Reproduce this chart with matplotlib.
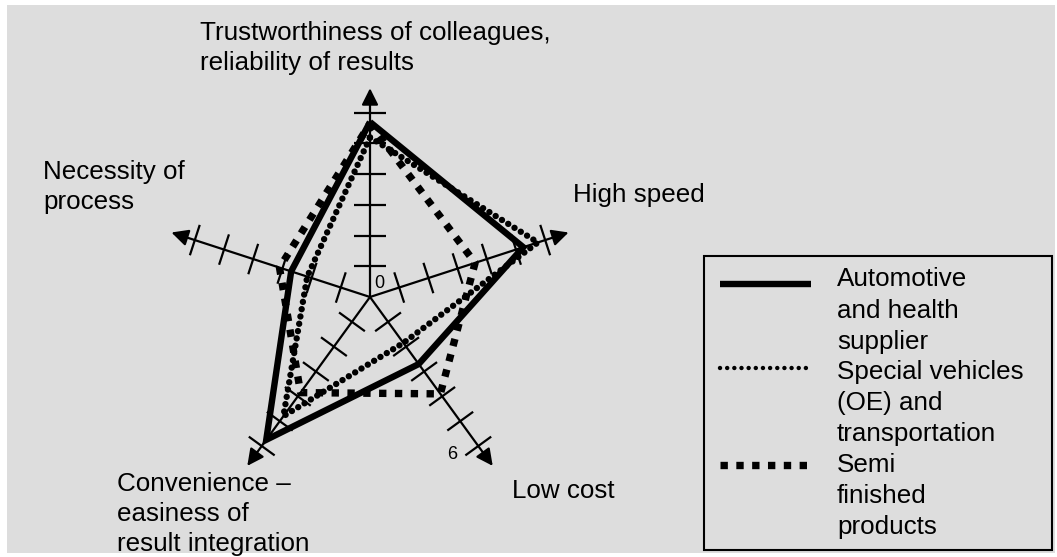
import matplotlib
matplotlib.use("Agg")
import matplotlib.pyplot as plt
import numpy as np
from matplotlib.lines import Line2D
from matplotlib.patches import Rectangle

# ---------------- data ----------------
axis_labels = [
    "Trustworthiness of colleagues,\nreliability of results",
    "High speed",
    "Low cost",
    "Convenience –\neasiness of\nresult integration",
    "Necessity of\nprocess",
]
axis_angles_deg = [90, 18, -54, -126, 162]
scale_ticks = [1, 2, 3, 4, 5, 6]
scale_labels = ["0", "6"]

series_names = [
    "Automotive\nand health\nsupplier",
    "Special vehicles\n(OE) and\ntransportation",
    "Semi\nfinished\nproducts",
]
automotive = [5.7, 5.25, 2.7, 5.75, 2.7]
special_vehicles = [5.2, 5.75, 1.85, 4.8, 2.15]
semi_finished = [5.65, 3.6, 3.9, 3.85, 3.1]

# ---------------- layout ----------------
W, H = 1057, 557
U = 30.7            # pixels per scale unit
CX, CY = 370, 297   # centre of radar in pixels
AXIS_LEN = 6.8
FS = 18.7
FONT = ["Liberation Sans", "DejaVu Sans"]
plt.rcParams["font.family"] = FONT

fig = plt.figure(figsize=(W / 100, H / 100), dpi=100)
fig.patch.set_facecolor("white")

bg = fig.add_axes([0, 0, 1, 1])
bg.set_xlim(0, W)
bg.set_ylim(H, 0)
bg.axis("off")
bg.add_patch(Rectangle((7, 5), 1048, 548, facecolor="#dddddd", edgecolor="none", zorder=0))

ax = fig.add_axes([0, 0, 1, 1])
ax.set_xlim(-CX / U, (W - CX) / U)
ax.set_ylim(-(H - CY) / U, CY / U)
ax.axis("off")
ax.patch.set_alpha(0)

ang = np.deg2rad(axis_angles_deg)
ux, uy = np.cos(ang), np.sin(ang)

# axes with arrows and ticks
for cx_, cy_ in zip(ux, uy):
    ax.annotate("", xy=(cx_ * AXIS_LEN, cy_ * AXIS_LEN), xytext=(0, 0),
                arrowprops=dict(arrowstyle="-|>,head_length=0.5,head_width=0.25",
                                lw=1.6, color="black", shrinkA=0, shrinkB=0,
                                mutation_scale=20), zorder=2)
    px, py = -cy_, cx_
    for t in scale_ticks:
        ax.plot([cx_ * t - px * 0.52, cx_ * t + px * 0.52],
                [cy_ * t - py * 0.52, cy_ * t + py * 0.52],
                color="black", lw=1.6, solid_capstyle="butt", zorder=2)

def closed(vals):
    v = np.asarray(vals, dtype=float)
    xs = np.append(v * ux, v[0] * ux[0])
    ys = np.append(v * uy, v[0] * uy[0])
    return xs, ys

styles = [
    dict(color="black", lw=4.6, linestyle="-", solid_joinstyle="miter", solid_capstyle="butt"),
    dict(color="black", lw=4.6, linestyle=(0, (0.01, 1.15)), dash_capstyle="round"),
    dict(color="black", lw=5.3, linestyle=(0, (1.0, 1.15)), dash_capstyle="butt"),
]
legend_styles = [
    styles[0],
    dict(color="black", lw=3.2, linestyle=(0, (0.01, 1.6)), dash_capstyle="round"),
    styles[2],
]
all_series = [automotive, special_vehicles, semi_finished]
order = [1, 2, 0]
for i in order:
    xs, ys = closed(all_series[i])
    ax.plot(xs, ys, zorder=3 + i, **styles[i])

# scale labels
bg.text(374, 288, scale_labels[0], fontsize=13, ha="left", va="baseline", zorder=6)
bg.text(457, 459, scale_labels[1], fontsize=13, ha="right", va="baseline", zorder=6)

# axis labels (x, first baseline, ha)
label_pos = [
    (200, 40, "left"),
    (573, 202, "left"),
    (512, 498, "left"),
    (117, 491, "left"),
    (43, 179, "left"),
]
for lab, (x, y0, ha) in zip(axis_labels, label_pos):
    for k, line in enumerate(lab.split("\n")):
        bg.text(x, y0 + 30 * k, line, fontsize=FS, ha=ha, va="baseline", zorder=6)

# legend (manual)
bg.add_patch(Rectangle((704, 256), 348, 294, facecolor="none", edgecolor="black", lw=1.5, zorder=6))
sample_y = [283.5, 368.3, 465]
text_base = [286.5, 379, 472]
for i in range(3):
    bg.add_line(Line2D([720, 811], [sample_y[i]] * 2, zorder=7, **legend_styles[i]))
    for k, line in enumerate(series_names[i].split("\n")):
        bg.text(837, text_base[i] + 31 * k, line, fontsize=FS, ha="left", va="baseline", zorder=7)

fig.savefig("out.png", dpi=100, facecolor="white")
